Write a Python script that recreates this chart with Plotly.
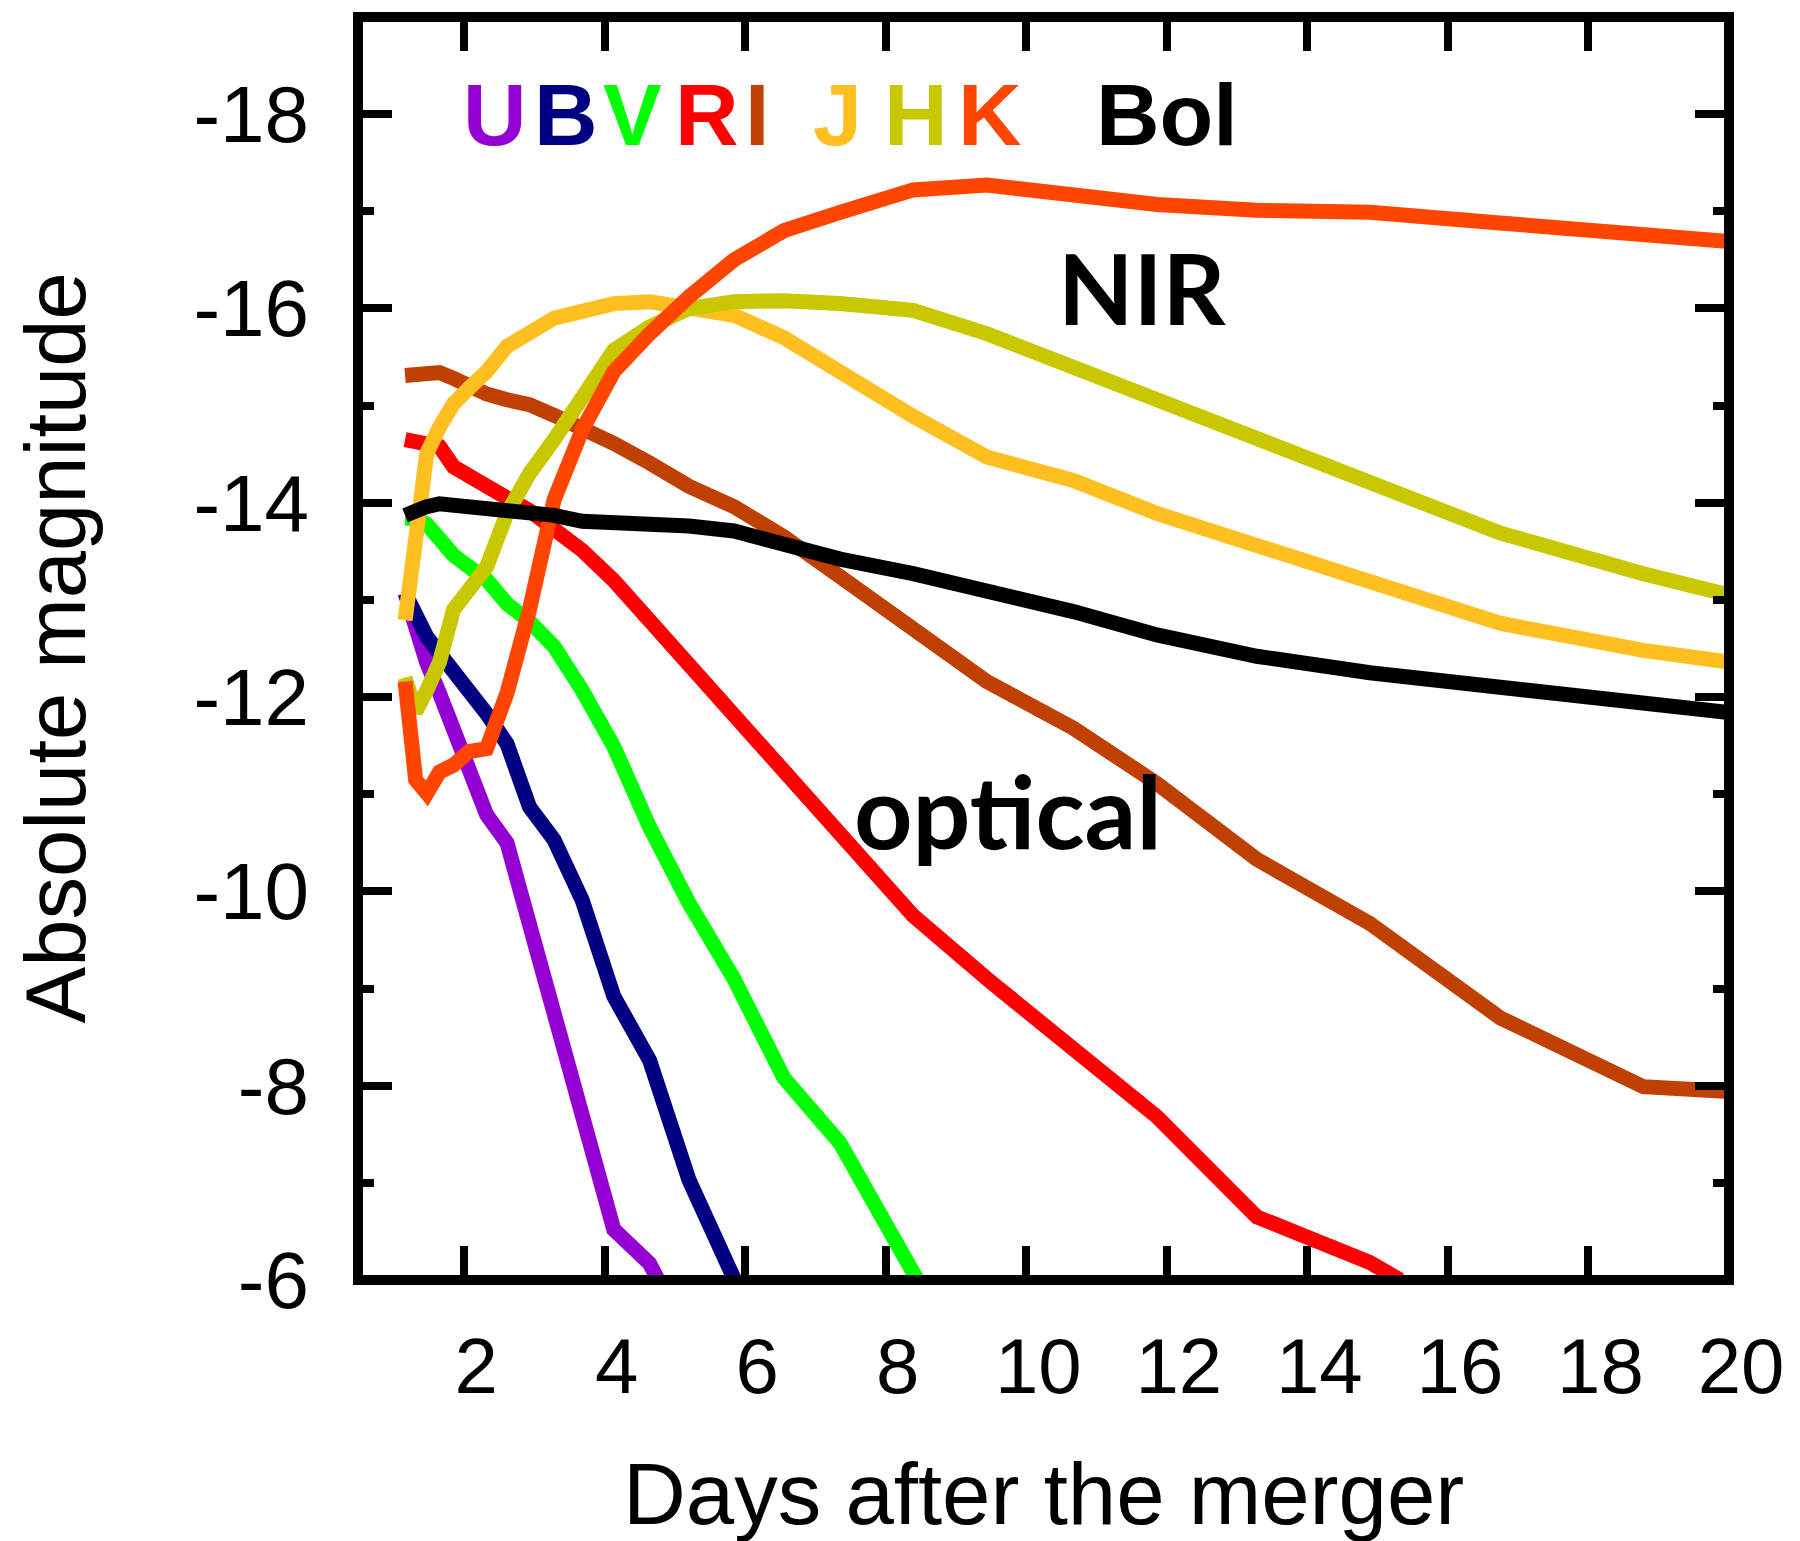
import plotly.graph_objects as go

# Days after the merger on the common model time grid
days = [1.16, 1.31, 1.47, 1.65, 1.85, 2.07, 2.32, 2.61, 2.93, 3.28, 3.68, 4.13, 4.64,
        5.2, 5.84, 6.55, 7.35, 8.39, 9.44, 10.67, 11.86, 13.28, 14.89, 16.74, 18.78, 20.0]

# Optical bands fade below -6 mag; their day lists stop where they leave the plot
days_U = [1.16, 1.31, 1.47, 1.65, 1.85, 2.07, 2.32, 2.61, 2.93, 3.28, 3.68, 4.13, 4.64, 4.76]
mag_U = [-13.07, -12.66, -12.35, -12.04, -11.66, -11.28, -10.79, -10.50, -9.67, -8.85,
         -7.82, -6.52, -6.17, -6.0]

days_B = [1.16, 1.31, 1.47, 1.65, 1.85, 2.07, 2.32, 2.61, 2.93, 3.28, 3.68, 4.13, 4.64,
          5.2, 5.85]
mag_B = [-13.07, -12.83, -12.62, -12.45, -12.28, -12.05, -11.83, -11.52, -10.87, -10.53,
         -9.91, -8.92, -8.26, -7.03, -6.0]

days_V = [1.16, 1.31, 1.47, 1.65, 1.85, 2.07, 2.32, 2.61, 2.93, 3.28, 3.68, 4.13, 4.64,
          5.2, 5.84, 6.55, 7.35, 8.45]
mag_V = [-13.84, -13.84, -13.78, -13.63, -13.46, -13.34, -13.21, -12.96, -12.78, -12.52,
         -12.07, -11.49, -10.66, -9.88, -9.10, -8.08, -7.41, -6.0]

days_R = [1.16, 1.31, 1.47, 1.65, 1.85, 2.07, 2.32, 2.61, 2.93, 3.28, 3.68, 4.13, 4.64,
          5.2, 5.84, 6.55, 7.35, 8.39, 9.44, 10.67, 11.86, 13.28, 14.89, 15.32]
mag_R = [-14.65, -14.63, -14.60, -14.58, -14.37, -14.27, -14.15, -14.05, -13.92, -13.75,
         -13.51, -13.20, -12.79, -12.33, -11.80, -11.28, -10.63, -9.75, -9.10, -8.36,
         -7.68, -6.65, -6.18, -6.0]

mag_I = [-15.31, -15.33, -15.35, -15.34, -15.28, -15.20, -15.12, -15.06, -15.01, -14.90,
         -14.77, -14.61, -14.41, -14.17, -13.96, -13.65, -13.24, -12.70, -12.16, -11.68,
         -11.11, -10.33, -9.67, -8.70, -7.99, -7.94]

mag_J = [-12.79, -13.72, -14.51, -14.78, -15.02, -15.18, -15.35, -15.61, -15.76, -15.90,
         -15.97, -16.05, -16.07, -16.02, -15.93, -15.70, -15.33, -14.89, -14.47, -14.23,
         -13.89, -13.55, -13.20, -12.76, -12.48, -12.36]

mag_H = [-12.20, -11.85, -12.07, -12.36, -12.90, -13.10, -13.34, -13.89, -14.30, -14.65,
         -15.06, -15.57, -15.81, -16.00, -16.07, -16.08, -16.05, -15.98, -15.74, -15.40,
         -15.06, -14.65, -14.22, -13.69, -13.27, -13.05]

mag_K = [-12.16, -11.15, -11.01, -11.23, -11.30, -11.44, -11.47, -12.04, -12.90, -14.03,
         -14.75, -15.35, -15.74, -16.12, -16.50, -16.80, -16.99, -17.22, -17.27, -17.15,
         -17.07, -17.01, -16.99, -16.88, -16.77, -16.69]

mag_Bol = [-13.87, -13.92, -13.96, -13.99, -13.98, -13.96, -13.94, -13.92, -13.90, -13.87,
           -13.81, -13.80, -13.80, -13.76, -13.71, -13.57, -13.42, -13.27, -13.10, -12.88,
           -12.64, -12.42, -12.25, -12.09, -11.93, -11.84]

bands = ["U", "B", "V", "R", "I", "J", "H", "K", "Bol"]
band_colors = ["#9400D3", "#000080", "#00FF00", "#FF0000", "#BF4000",
               "#FFBF20", "#C8C800", "#FF4500", "#000000"]

x_ticks = [2, 4, 6, 8, 10, 12, 14, 16, 18, 20]
x_ticktext = ["2", "4", "6", "8", "10", "12", "14", "16", "18", "20"]
y_ticks = [-18, -16, -14, -12, -10, -8, -6]
y_ticktext = ["-18", "-16", "-14", "-12", "-10", "-8", "-6"]

series = [
    (days_U, mag_U), (days_B, mag_B), (days_V, mag_V), (days_R, mag_R),
    (days, mag_I), (days, mag_J), (days, mag_H), (days, mag_K), (days, mag_Bol),
]

fig = go.Figure()
for name, color, (xs, ys) in zip(bands, band_colors, series):
    fig.add_trace(go.Scatter(
        x=xs, y=ys, mode="lines", name=name,
        line=dict(color=color, width=15),
        showlegend=False, hoverinfo="skip",
    ))

# Band labels across the top, each in its curve colour
label_x = [2.44, 3.45, 4.40, 5.46, 6.17, 7.31, 8.43, 9.48, 12.0]
annotations = []
for txt, color, lx in zip(bands, band_colors, label_x):
    annotations.append(dict(
        x=lx, y=-18.0, xref="x", yref="y", text=f"<b>{txt}</b>", showarrow=False,
        xanchor="center", yanchor="middle",
        font=dict(family="Liberation Sans, Arial", size=88, color=color),
    ))

annotations += [
    dict(x=11.65, y=-16.22, xref="x", yref="y", text="<b>NIR</b>", showarrow=False,
         xanchor="center", yanchor="middle",
         font=dict(family="Lato, Open Sans, sans-serif", size=98, color="black")),
    dict(x=9.74, y=-10.84, xref="x", yref="y", text="<b>optical</b>", showarrow=False,
         xanchor="center", yanchor="middle",
         font=dict(family="Lato, Open Sans, sans-serif", size=102, color="black")),
    dict(x=0.5, y=0, xref="paper", yref="paper", text="Days after the merger",
         showarrow=False, xanchor="center", yanchor="middle", yshift=-213,
         font=dict(family="Liberation Sans, Arial", size=87, color="black")),
    dict(x=0, y=0.5, xref="paper", yref="paper", text="Absolute magnitude",
         showarrow=False, xanchor="center", yanchor="middle", xshift=-303, textangle=-90,
         font=dict(family="Liberation Sans, Arial", size=85, color="black")),
]

tick_font = dict(family="Liberation Sans, Arial", color="black")

fig.update_layout(
    width=1800, height=1541,
    margin=dict(l=358, r=71, t=17, b=261, pad=0),
    paper_bgcolor="white", plot_bgcolor="white",
    annotations=annotations,
    shapes=[dict(type="rect", xref="paper", yref="paper", x0=0, y0=0, x1=1, y1=1,
                 line=dict(color="black", width=10), layer="above")],
)

fig.update_xaxes(
    range=[0.49, 20], showgrid=False, zeroline=False, showline=False,
    tickmode="array", tickvals=x_ticks, ticktext=x_ticktext,
    ticks="inside", ticklen=34, tickwidth=8, tickcolor="black", mirror="ticks",
    tickfont=dict(size=78, **tick_font), ticklabelstandoff=34, ticklabelshift=12,
)
fig.update_yaxes(
    range=[-6, -19], showgrid=False, zeroline=False, showline=False,
    tickmode="array", tickvals=y_ticks, ticktext=y_ticktext,
    ticks="inside", ticklen=34, tickwidth=8, tickcolor="black", mirror="ticks",
    minor=dict(dtick=1, tick0=0, ticks="inside", ticklen=16, tickwidth=8, tickcolor="black"),
    tickfont=dict(size=80, **tick_font), ticklabelstandoff=48,
)

fig.write_html("out.html")
